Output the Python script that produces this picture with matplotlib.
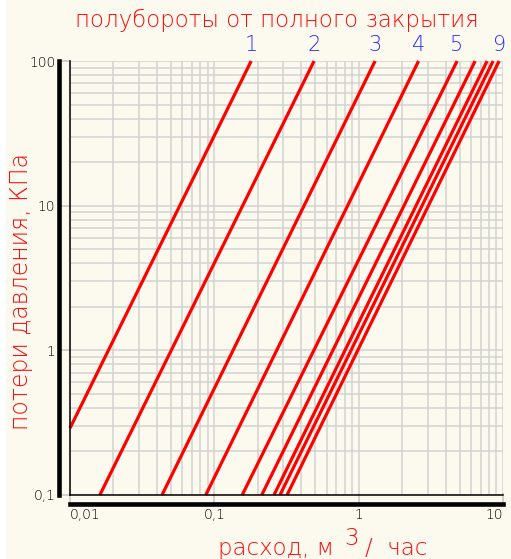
import matplotlib
matplotlib.use('Agg')
import matplotlib.pyplot as plt
from matplotlib.ticker import FixedLocator, LogLocator, NullFormatter, FixedFormatter
from matplotlib.patches import Rectangle

# ---- data ----
curve_labels = ["1", "2", "3", "4", "5", "", "", "", "9"]
q_start = [0.01, 0.0161, 0.0434, 0.0872, 0.156, 0.213, 0.259, 0.285, 0.319]   # m3/h
dp_start = [0.29, 0.1, 0.1, 0.1, 0.1, 0.1, 0.1, 0.1, 0.1]                      # kPa
q_end = [0.180, 0.491, 1.30, 2.60, 4.81, 6.41, 7.76, 8.54, 9.40]               # m3/h
dp_end = [100, 100, 100, 100, 100, 100, 100, 100, 100]                         # kPa
x_ticks = [0.01, 0.1, 1, 10]
x_tick_labels = ["0,01", "0,1", "1", "10"]
y_ticks = [0.1, 1, 10, 100]
y_tick_labels = ["0,1", "1", "10", "100"]
title_text = "полубороты от полного закрытия"
y_label_text = "потери давления, КПа"

BG = '#FCFAEF'
RED_LINE = '#FF0000'
RED_TEXT = '#FF0A0A'
BLUE = '#2E2EFF'
GRID = '#D2D2D2'
W, H = 511, 559
FW = 'light'

fig = plt.figure(figsize=(W / 100, H / 100), dpi=100, facecolor=BG)
fig.patches.append(Rectangle((0, 0), 6 / W, 1, transform=fig.transFigure,
                             facecolor='white', edgecolor='none', zorder=-1))

ax = fig.add_axes([70 / W, 1 - 495 / H, 433 / W, 434 / H])
ax.set_facecolor(BG)
ax.set_xscale('log')
ax.set_yscale('log')
ax.set_xlim(x_ticks[0], x_ticks[-1])
ax.set_ylim(y_ticks[0], y_ticks[-1])

ax.xaxis.set_major_locator(FixedLocator(x_ticks))
ax.xaxis.set_major_formatter(FixedFormatter(x_tick_labels))
ax.yaxis.set_major_locator(FixedLocator(y_ticks))
ax.yaxis.set_major_formatter(FixedFormatter(y_tick_labels))
ax.xaxis.set_minor_locator(LogLocator(base=10, subs=range(2, 10), numticks=20))
ax.yaxis.set_minor_locator(LogLocator(base=10, subs=range(2, 10), numticks=20))
ax.xaxis.set_minor_formatter(NullFormatter())
ax.yaxis.set_minor_formatter(NullFormatter())

ax.grid(True, which='both', color=GRID, lw=1.1, zorder=0)
ax.set_axisbelow(True)

for s in ['top', 'right']:
    ax.spines[s].set_visible(False)
ax.spines['left'].set_position(('outward', 7.6))
ax.spines['bottom'].set_position(('outward', 6.5))
for s in ['left', 'bottom']:
    ax.spines[s].set_linewidth(3.3)
    ax.spines[s].set_color('black')
    ax.spines[s].set_zorder(5)

ax.tick_params(which='major', direction='in', length=8, width=1.1, color='#C4C4C4',
               labelsize=10, labelcolor='#000000')
ax.tick_params(axis='x', which='major', pad=3)
ax.tick_params(axis='y', which='major', pad=3)
ax.tick_params(which='minor', length=0)

ax.figure.canvas.draw()
xl = ax.get_xticklabels()
xl[0].set_ha('left')
xl[-1].set_ha('right')
for t in ax.get_xticklabels() + ax.get_yticklabels():
    t.set_fontweight(FW)

# thin axis frame lines
ax.plot([0, 0], [0, 1], transform=ax.transAxes, color='black', lw=1.1, clip_on=False, zorder=4)
ax.plot([0, 1], [0, 0], transform=ax.transAxes, color='black', lw=1.1, clip_on=False, zorder=4)

for i in range(len(q_start)):
    ax.plot([q_start[i], q_end[i]], [dp_start[i], dp_end[i]], color=RED_LINE, lw=2.3,
            solid_capstyle='butt', clip_on=False, zorder=3)
    if curve_labels[i]:
        ax.annotate(curve_labels[i], xy=(q_end[i], dp_end[i]), xytext=(0, 4),
                    textcoords='offset points', ha='center', va='bottom',
                    color=BLUE, fontsize=15, fontweight=FW, annotation_clip=False)

fig.text(277 / W, 1 - 27 / H, title_text, ha='center', va='baseline',
         color=RED_TEXT, fontsize=16.5, fontweight=FW)
fig.text(21 / W, 1 - 292 / H, y_label_text, rotation=90, ha='center', va='center',
         color=RED_TEXT, fontsize=17, fontweight=FW)
fig.text(218 / W, 1 - 555 / H, "расход, м", ha='left', va='baseline',
         color=RED_TEXT, fontsize=16.5, fontweight=FW)
fig.text(351 / W, 1 - 545 / H, "3", ha='center', va='baseline',
         color=RED_TEXT, fontsize=16.5, fontweight=FW)
fig.text(365 / W, 1 - 555 / H, "/  час", ha='left', va='baseline',
         color=RED_TEXT, fontsize=16.5, fontweight=FW)

fig.savefig('out.png', dpi=100, facecolor=BG)
